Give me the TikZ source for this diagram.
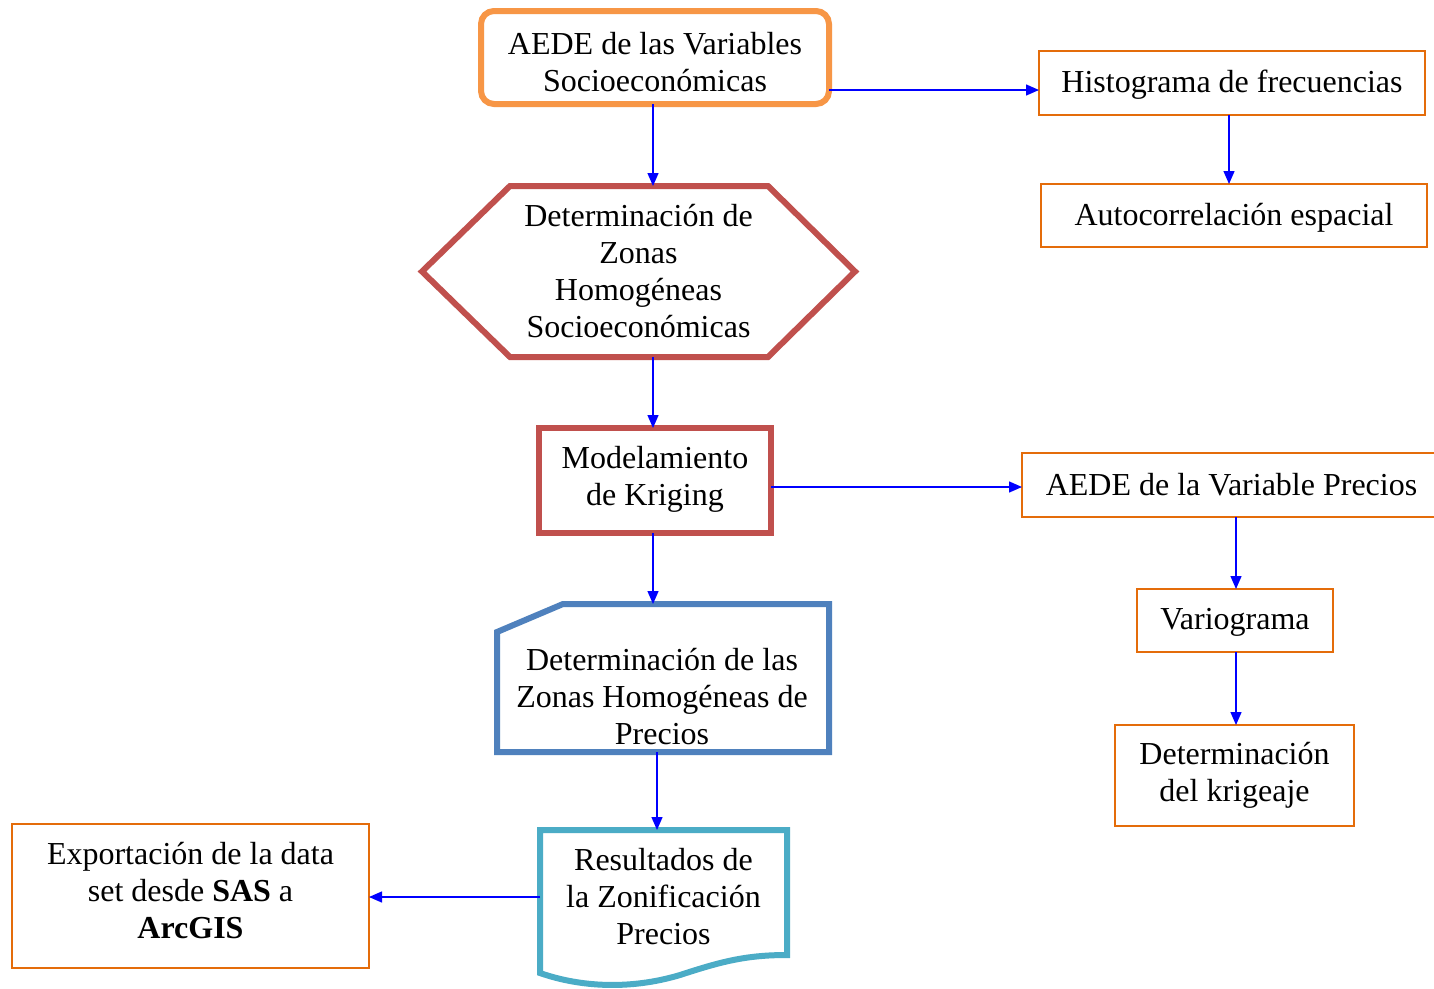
\documentclass[tikz,border=0pt]{standalone}
\usepackage{fontspec}
\setmainfont{Liberation Serif}
\usetikzlibrary{arrows.meta,calc}
\definecolor{orgA}{HTML}{F79646}
\definecolor{orgB}{HTML}{E46C0A}
\definecolor{redA}{HTML}{C0504D}
\definecolor{bluA}{HTML}{4F81BD}
\definecolor{teaA}{HTML}{4BACC6}
\begin{document}
\begin{tikzpicture}[x=1pt,y=-1pt,
  every node/.style={font=\fontsize{32}{37}\selectfont, align=center, inner sep=0pt, outer sep=0pt},
  obox/.style={draw=orgB, line width=1.6pt, rectangle},
  thick6/.style={line width=6pt, line join=miter},
  ghost/.style={rectangle, draw=none},
  arr/.style={draw=blue, line width=1.4pt, -{Triangle[length=13pt,width=11pt]}}]
\clip (0,0) rectangle (1434,988);
\fill[white] (0,0) rectangle (1434,988);

% coordinates for connector offsets
\coordinate (y90) at (0,90);
\coordinate (y487) at (0,487);
\coordinate (x653) at (653,0);
\coordinate (x657) at (657,0);
\coordinate (x1229) at (1229,0);
\coordinate (x1236) at (1236,0);
\coordinate (y897) at (0,897);

% top rounded box
\node[draw=orgA, line width=6pt, rounded corners=13pt, minimum width=348pt, minimum height=93pt] (aede) at (655,57.5) {};
\node (aedetxt) at (655,62) {AEDE de las Variables\\Socioeconómicas};

% right orange boxes
\node[obox, minimum width=386pt, minimum height=64pt] (hist) at (1232,83) {};
\node (histtxt) at (1232,85) {Histograma de frecuencias};
\node[obox, minimum width=386pt, minimum height=63pt] (auto) at (1234,215.5) {};
\node (autotxt) at (1234,217.5) {Autocorrelación espacial};
\node[obox, minimum width=419pt, minimum height=64pt] (prec) at (1231.5,485) {AEDE de la Variable Precios};
\node[obox, minimum width=196pt, minimum height=63pt] (vario) at (1235,620.5) {};
\node (variotxt) at (1235,622.5) {Variograma};
\node[obox, minimum width=239pt, minimum height=101pt] (krig) at (1234.5,775.5) {Determinación\\del krigeaje};

% hexagon
\node[ghost, minimum width=433pt, minimum height=171pt] (hex) at (638.5,271.5) {Determinación de\\Zonas\\Homogéneas\\Socioeconómicas};
\draw[redA, thick6] (hex.west) -- ($(hex.north west)+(88,0)$) -- ($(hex.north east)+(-87,0)$) -- (hex.east)
  -- ($(hex.south east)+(-87,0)$) -- ($(hex.south west)+(88,0)$) -- cycle;

% modelamiento
\node[draw=redA, line width=6pt, minimum width=232pt, minimum height=105pt] (model) at (655,480.5) {};
\node (modeltxt) at (655,479.5) {Modelamiento\\de Kriging};

% card shape
\node[ghost, minimum width=332pt, minimum height=148pt] (card) at (663,678) {};
\draw[bluA, thick6] ($(card.north west)+(0,28)$) -- ($(card.north west)+(66,0)$) -- (card.north east)
  -- (card.south east) -- (card.south west) -- cycle;
\node (cardtxt) at (662,697) {Determinación de las\\Zonas Homogéneas de\\Precios};

% document shape
\node[ghost, minimum width=247pt, minimum height=130pt] (doc) at (663.5,895) {};
\node (doctxt) at (663.5,897) {Resultados de\\la Zonificación\\Precios};
\draw[teaA, thick6] (doc.north west) -- (doc.north east) -- (787,955)
  .. controls (745,955) and (720,962) .. (680,975)
  .. controls (630,990) and (580,987) .. (540,973) -- cycle;

% export box
\node[obox, minimum width=357pt, minimum height=144pt] (exp) at (190.5,896) {};
\node (exptxt) at (190.5,891) {Exportación de la data\\set desde \textbf{SAS} a\\\textbf{ArcGIS}};

% connectors
\draw[arr] (aede.east |- y90) -- (hist.west |- y90);
\draw[arr] (aede.south -| x653) -- (hex.north -| x653);
\draw[arr] (hist.south -| x1229) -- (auto.north -| x1229);
\draw[arr] (hex.south -| x653) -- (model.north -| x653);
\draw[arr] (model.east |- y487) -- (prec.west |- y487);
\draw[arr] (prec.south -| x1236) -- (vario.north -| x1236);
\draw[arr] (vario.south -| x1236) -- (krig.north -| x1236);
\draw[arr] (model.south -| x653) -- (card.north -| x653);
\draw[arr] (card.south -| x657) -- (doc.north -| x657);
\draw[arr] (doc.west |- y897) -- (exp.east |- y897);
\end{tikzpicture}
\end{document}
